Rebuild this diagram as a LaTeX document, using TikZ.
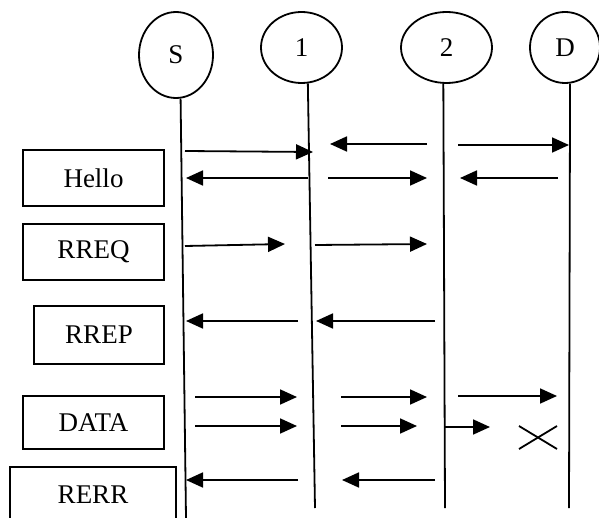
\documentclass[tikz,border=0pt]{standalone}
\usepackage{fontspec}
\setmainfont{Liberation Serif}
\usetikzlibrary{shapes.geometric,arrows.meta}

\begin{document}
\begin{tikzpicture}[
          x=0.5pt, y=-0.5pt,
          font=\fontsize{13.5}{15}\selectfont,
          peer/.style={ellipse, draw, line width=0.9pt, inner sep=0pt},
          msgbox/.style={draw, line width=0.9pt, inner sep=0pt},
          life/.style={line width=0.9pt},
          msg/.style={-{Triangle[length=8.5pt, width=7.5pt]}, line width=0.9pt},
          ]

          \clip (0,0) rectangle (599,518);

          % the four stations
          \node[peer, minimum width=37pt, minimum height=43pt] (S) at (176,55) {S};
          \node[peer, minimum width=40.5pt, minimum height=35.5pt] (n1) at (301.5,47.5) {1};
          \node[peer, minimum width=45.5pt, minimum height=35.5pt] (n2) at (446.5,47.5) {2};
          \node[peer, minimum width=35pt, minimum height=35.5pt] (D) at (565,47.5) {D};

          \coordinate (S-end) at (186,518);
          \coordinate (n1-end) at (315,508);
          \coordinate (n2-end) at (445,508);
          \coordinate (D-end) at (569,508);

          \draw[life] (S.-84) -- (S-end);
          \draw[life] (n1.-80) -- (n1-end);
          \draw[life] (n2.-95) -- (n2-end);
          \draw[life] (D.-82) -- (D-end);

          % packet types
          \node[msgbox, minimum width=70.5pt, minimum height=28pt] (hello) at (93.5,178) {Hello};
          \node[msgbox, minimum width=70.5pt, minimum height=28pt] (rreq) at (93.5,252) {RREQ};
          \node[msgbox, minimum width=65pt, minimum height=29pt] (rrep) at (99,335) {RREP};
          \node[msgbox, minimum width=70.5pt, minimum height=26.5pt] (data) at (93.5,422.5) {DATA};
          \node[msgbox, minimum width=83pt, minimum height=28pt] (rerr) at (93,495) {RERR};

          % messages: name / start / end
          \foreach \m/\xa/\ya/\xb/\yb in {
              ha/185/151/313/152, hb/427/144/330/144, hc/458/145/569/145,
              hd/308/178/186/178, he/328/178/427/178, hf/558/178/460/178,
              qa/185/246/285/244, qb/315/245/427/244,
              pa/298/321/186/321, pb/435/321/316/321,
              da/195/397/297/397, db/341/397/427/397, dc/458/396/557/396,
              dd/195/426/297/426, de/341/426/417/426, df/445/427/490/427,
              ea/298/480/186/480, eb/435/480/342/480}
          {
            \coordinate (\m-a) at (\xa,\ya);
            \coordinate (\m-b) at (\xb,\yb);
            \draw[msg] (\m-a) -- (\m-b);
          }

          % lost packet
          \coordinate (lost-nw) at (519,426);
          \coordinate (lost-se) at (557,449);
          \coordinate (lost-sw) at (519,449);
          \coordinate (lost-ne) at (557,426);
          \draw[life] (lost-nw) -- (lost-se);
          \draw[life] (lost-sw) -- (lost-ne);

        \end{tikzpicture}
\end{document}
